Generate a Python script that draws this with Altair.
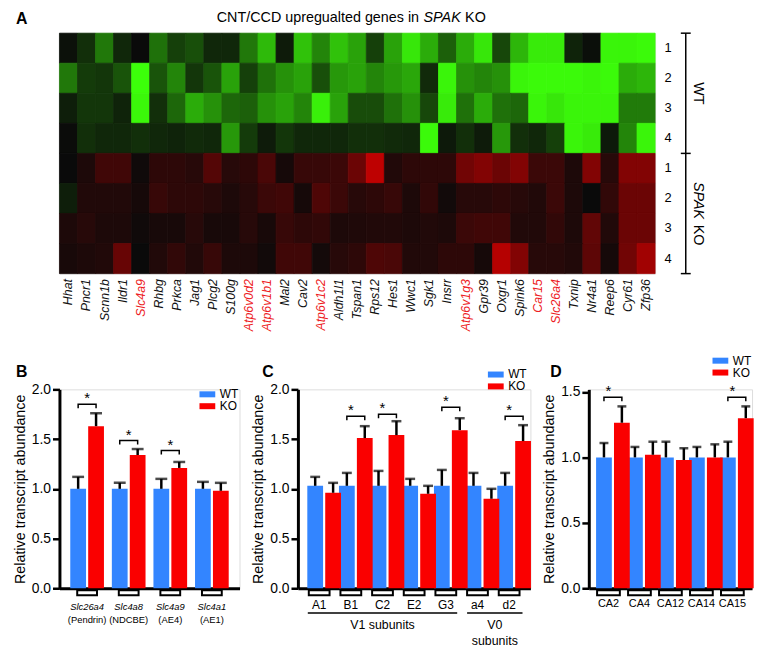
import altair as alt
import pandas as pd

FONT = "Liberation Sans"
BLUE = "#3385ff"
RED = "#fa0000"
LABEL_RED = "#ed1c24"

# ---------------- Panel A data ----------------
genes = ["Hhat", "Pncr1", "Scnn1b", "Ildr1", "Slc4a9", "Rhbg", "Prkca", "Jag1", "Plcg2", "S100g",
         "Atp6v0d2", "Atp6v1b1", "Mal2", "Cav2", "Atp6v1c2", "Aldh1l1", "Tspan1", "Rps12", "Hes1",
         "Wwc1", "Sgk1", "Insrr", "Atp6v1g3", "Gpr39", "Oxgr1", "Spink6", "Car15", "Slc26a4",
         "Txnip", "Nr4a1", "Reep6", "Cyr61", "Zfp36"]
red_genes = ["Slc4a9", "Atp6v0d2", "Atp6v1b1", "Atp6v1c2", "Atp6v1g3", "Car15", "Slc26a4"]
row_ids = ["WT1", "WT2", "WT3", "WT4", "KO1", "KO2", "KO3", "KO4"]

wt_1 = [-0.03, -0.15, -0.45, -0.12, 0.0, -0.42, -0.22, -0.28, -0.12, -0.12, -0.45, -0.72, -0.07, -0.75,
        -0.5, -0.75, -0.62, -0.22, -0.62, -0.9, -0.66, -0.35, -0.66, -0.9, -0.25, -0.7, -0.92, -0.92,
        -0.1, -0.02, -0.96, -0.96, -0.98]
wt_2 = [-0.45, -0.2, -0.18, -0.3, -1.0, -0.3, -0.5, -0.18, -0.3, -0.62, -0.22, -0.42, -0.55, -0.62,
        -0.28, -0.58, -0.62, -0.5, -0.58, -0.64, -0.13, -0.96, -0.55, -0.5, -0.55, -0.96, -0.98, -0.98,
        -0.98, -0.96, -0.98, -0.66, -0.7]
wt_3 = [-0.08, -0.18, -0.18, -0.1, -0.97, -0.15, -0.38, -0.66, -0.55, -0.38, -0.35, -0.55, -0.62, -0.5,
        -0.94, -0.62, -0.27, -0.27, -0.42, -0.55, -0.25, -0.92, -0.42, -0.66, -0.42, -0.38, -0.96, -0.9,
        -0.96, -0.96, -0.96, -0.46, -0.46]
wt_4 = [-0.01, -0.15, -0.12, -0.12, -0.15, -0.12, -0.1, -0.13, -0.12, -0.58, -0.2, -0.07, -0.18, -0.12,
        -0.12, -0.12, -0.15, -0.15, -0.13, -0.12, -0.98, -0.06, -0.15, -0.07, -0.58, -0.15, -0.12, -0.22,
        -0.96, -0.92, -0.06, -0.5, -0.96]
ko_1 = [0.0, 0.1, 0.28, 0.28, 0.03, 0.18, 0.18, 0.15, 0.38, 0.15, 0.18, 0.33, 0.06, 0.23, 0.23, 0.25,
        0.5, 0.93, 0.12, 0.18, 0.18, 0.18, 0.53, 0.62, 0.5, 0.62, 0.25, 0.25, 0.1, 0.62, 0.15, 0.62, 0.62]
ko_2 = [-0.08, 0.12, 0.12, 0.12, 0.06, 0.23, 0.18, 0.18, 0.15, 0.1, 0.15, 0.25, 0.28, 0.06, 0.35, 0.25,
        0.15, 0.18, 0.23, 0.1, 0.2, 0.04, 0.15, 0.15, 0.18, 0.15, 0.12, 0.25, 0.1, 0.0, 0.2, 0.5, 0.5]
ko_3 = [0.1, 0.15, 0.1, 0.1, 0.03, 0.07, 0.07, 0.15, 0.07, 0.07, 0.15, 0.07, 0.23, 0.18, 0.2, 0.1,
        0.11, 0.12, 0.12, 0.1, 0.12, 0.1, 0.25, 0.28, 0.28, 0.12, 0.12, 0.2, 0.1, 0.45, 0.12, 0.5, 0.5]
ko_4 = [0.07, 0.1, 0.12, 0.48, 0.0, 0.12, 0.2, 0.12, 0.23, 0.1, 0.1, 0.04, 0.28, 0.28, 0.05, 0.15,
        0.18, 0.35, 0.33, 0.12, 0.12, 0.18, 0.18, 0.06, 0.88, 0.62, 0.15, 0.15, 0.12, 0.43, 0.06, 0.53, 0.78]

# ---------------- Panel B data ----------------
b_genes = ["Slc26a4", "Slc4a8", "Slc4a9", "Slc4a1"]
b_names = ["(Pendrin)", "(NDCBE)", "(AE4)", "(AE1)"]
b_wt = [1.0, 1.0, 1.0, 1.0]
b_wt_top = [1.12, 1.06, 1.10, 1.07]
b_ko = [1.63, 1.34, 1.21, 0.98]
b_ko_top = [1.76, 1.40, 1.27, 1.06]
b_sig = [1.85, 1.485, 1.385, None]

# ---------------- Panel C data ----------------
c_genes = ["A1", "B1", "C2", "E2", "G3", "a4", "d2"]
c_wt = [1.03, 1.03, 1.03, 1.03, 1.03, 1.03, 1.03]
c_wt_top = [1.12, 1.16, 1.18, 1.10, 1.19, 1.16, 1.16]
c_ko = [0.96, 1.51, 1.54, 0.95, 1.59, 0.90, 1.48]
c_ko_top = [1.06, 1.63, 1.68, 1.03, 1.71, 1.00, 1.64]
c_sig = [None, 1.73, 1.75, None, 1.82, None, 1.73]

# ---------------- Panel D data ----------------
d_genes = ["CA2", "CA4", "CA12", "CA14", "CA15"]
d_wt = [1.0, 1.0, 1.0, 1.0, 1.0]
d_wt_top = [1.11, 1.08, 1.12, 1.08, 1.12]
d_ko = [1.265, 1.02, 0.98, 1.0, 1.30]
d_ko_top = [1.39, 1.12, 1.07, 1.10, 1.39]
d_sig = [1.46, None, None, None, 1.46]


def note(text):
    return alt.Chart(pd.DataFrame({"t": [text]}))


def label(text, x, y, **kw):
    base = dict(font=FONT, color="black", baseline="middle")
    base.update(kw)
    return note(text).mark_text(**base).encode(text="t:N", x=alt.value(x), y=alt.value(y))


# ================= Heatmap =================
HW, HH = 602, 243
heat_df = pd.DataFrame(
    [{"gene": g, "row": r, "value": v}
     for r, vals in zip(row_ids, [wt_1, wt_2, wt_3, wt_4, ko_1, ko_2, ko_3, ko_4])
     for g, v in zip(genes, vals)]
)
red_list = ",".join("'%s'" % g for g in red_genes)
label_color = {"expr": "indexof([%s], datum.value) >= 0 ? '%s' : '#111111'" % (red_list, LABEL_RED)}
heat_scale = dict(domain=[-1, 0, 1], range=["#3cff0a", "#0a0a0a", "#cc0000"], interpolate="rgb")

heat_rect = alt.Chart(heat_df).mark_rect(strokeWidth=0.8).encode(
    x=alt.X("gene:N", sort=genes, scale=alt.Scale(paddingInner=0, paddingOuter=0),
            axis=alt.Axis(title=None, orient="bottom", labelAngle=270, labelFont=FONT,
                          labelFontSize=12.5, labelFontStyle="italic", labelColor=label_color,
                          ticks=False, domain=False, labelPadding=5, labelOverlap=False)),
    y=alt.Y("row:N", sort=row_ids, scale=alt.Scale(paddingInner=0, paddingOuter=0),
            axis=alt.Axis(title=None, orient="right", labelExpr="substring(datum.label, 2)",
                          ticks=False, domain=False, labelPadding=9, labelFont=FONT,
                          labelFontSize=13, labelColor="black")),
    color=alt.Color("value:Q", scale=alt.Scale(**heat_scale), legend=None),
    stroke=alt.Stroke("value:Q", scale=alt.Scale(**heat_scale), legend=None),
)

BX = 633
vline = note("").mark_rule(color="black", strokeWidth=1.5).encode(
    x=alt.value(BX), y=alt.value(0), y2=alt.value(HH))
hticks = [note("").mark_rule(color="black", strokeWidth=1.5).encode(
    x=alt.value(BX - 5), x2=alt.value(BX + 5), y=alt.value(yy)) for yy in (0, HH / 2, HH)]

heat_layers = [heat_rect, vline] + hticks + [
    label("WT", 645, HH / 4, angle=90, align="center", fontSize=14.5),
    label("SPAK", 645, 150.4, angle=90, align="left", fontSize=14.5, fontStyle="italic"),
    label("KO", 645, 193.5, angle=90, align="left", fontSize=14.5),
    label("CNT/CCD upregualted genes in", 159, -15, align="left", fontSize=14.5),
    label("SPAK", 368, -15, align="left", fontSize=14.5, fontStyle="italic"),
    label("KO", 410, -15, align="left", fontSize=14.5),
    label("A", -44, -14, align="left", fontSize=16, fontWeight="bold"),
]
heat = alt.layer(*heat_layers).properties(width=HW, height=HH)


# ================= Bar panels =================
def bar_panel(g_list, wt, wt_top, ko, ko_top, sig_y, *, width, height, ydom, yticks,
              p_in, p_out, off_pad, cap_w, leg, box_w, lab_size, lab_style, lab_pad,
              letter, letter_x, leg_x, leg_y, extra=()):
    bars = pd.DataFrame(
        [{"gene": g, "series": "WT", "value": v, "top": t} for g, v, t in zip(g_list, wt, wt_top)] +
        [{"gene": g, "series": "KO", "value": v, "top": t} for g, v, t in zip(g_list, ko, ko_top)])
    sig = pd.DataFrame([{"gene": g, "y": y} for g, y in zip(g_list, sig_y) if y is not None])
    brk = pd.DataFrame([row for g, y in zip(g_list, sig_y) if y is not None for row in (
        {"gene": g, "series": "WT", "y": y - leg, "o": 0},
        {"gene": g, "series": "WT", "y": y, "o": 1},
        {"gene": g, "series": "KO", "y": y, "o": 2},
        {"gene": g, "series": "KO", "y": y - leg, "o": 3})])

    xaxis = alt.Axis(title=None, labelAngle=0, ticks=False, tickSize=0, labelPadding=lab_pad,
                     labelFont=FONT, labelFontSize=lab_size, labelFontStyle=lab_style,
                     labelColor="black", domainColor="black", domainWidth=3)
    yaxis = alt.Axis(title="Relative transcript abundance", values=yticks, format=".1f",
                     labelFont=FONT, labelFontSize=14, labelColor="black", labelPadding=2,
                     tickSize=7, tickWidth=2.5, tickColor="black", domainColor="black",
                     domainWidth=3, grid=False, titleFont=FONT, titleFontSize=14.5,
                     titleFontWeight="normal", titleColor="black", titlePadding=4)
    x = alt.X("gene:N", sort=g_list, scale=alt.Scale(paddingInner=p_in, paddingOuter=p_out), axis=xaxis)
    xo = alt.XOffset("series:N", sort=["WT", "KO"],
                     scale=alt.Scale(domain=["WT", "KO"], paddingInner=off_pad, paddingOuter=0))
    ysc = alt.Scale(domain=ydom, nice=False, zero=True)

    def yq(f):
        return alt.Y(f, type="quantitative", scale=ysc, axis=yaxis)

    bar = alt.Chart(bars).mark_bar().encode(
        x=x, xOffset=xo, y=yq("value"),
        color=alt.Color("series:N", sort=["WT", "KO"],
                        scale=alt.Scale(domain=["WT", "KO"], range=[BLUE, RED]),
                        legend=alt.Legend(title=None, orient="none", legendX=leg_x, legendY=leg_y,
                                          symbolType="M-1.45,-0.55H1.45V0.55H-1.45Z",
                                          symbolSize=121, symbolStrokeWidth=0, labelFont=FONT,
                                          labelFontSize=12, labelColor="black", labelOffset=6.5,
                                          rowPadding=0, padding=0)))
    err = alt.Chart(bars).mark_rule(color="black", strokeWidth=2.5).encode(
        x=x, xOffset=xo, y=yq("value"), y2=alt.Y2("top"))
    cap = alt.Chart(bars).mark_tick(color="black", thickness=2.5, size=cap_w).encode(
        x=x, xOffset=xo, y=yq("top"))
    br = alt.Chart(brk).mark_line(color="black", strokeWidth=1.5, strokeJoin="miter").encode(
        x=x, xOffset=xo, y=yq("y"), order="o:Q", detail="gene:N")
    star = alt.Chart(sig).mark_text(text="*", font=FONT, fontSize=15, color="black",
                                    baseline="middle", dy=-6).encode(x=x, y=yq("y"))
    box = alt.Chart(pd.DataFrame({"gene": g_list})).mark_bar(
        width=box_w, fill="white", stroke="black", strokeWidth=2).encode(
        x=x, y=alt.value(height + 2), y2=alt.value(height + 7))
    let = label(letter, letter_x, -17, align="left", fontSize=16, fontWeight="bold")
    return alt.layer(bar, err, cap, br, star, box, let, *extra).properties(width=width, height=height)


BHGT = 201
b_names_layer = alt.Chart(pd.DataFrame({"gene": b_genes, "name": b_names})).mark_text(
    font=FONT, fontSize=9.5, color="black", baseline="middle").encode(
    x=alt.X("gene:N", sort=b_genes), text="name:N", y=alt.value(233))

panel_b = bar_panel(b_genes, b_wt, b_wt_top, b_ko, b_ko_top, b_sig,
                    width=182, height=BHGT, ydom=[0, 2.0], yticks=[0, 0.5, 1.0, 1.5, 2.0],
                    p_in=0.19, p_out=0.26, off_pad=0.12, cap_w=12, leg=0.04, box_w=20,
                    lab_size=9.5, lab_style="italic", lab_pad=13, letter="B", letter_x=-44,
                    leg_x=143.5, leg_y=-1, extra=[b_names_layer])

c_extra = [
    note("").mark_rule(color="black", strokeWidth=1.5).encode(
        x=alt.value(10), x2=alt.value(161), y=alt.value(226)),
    note("").mark_rule(color="black", strokeWidth=1.5).encode(
        x=alt.value(171), x2=alt.value(227), y=alt.value(226)),
    label("V1 subunits", 85.5, 238, align="center", fontSize=12.5),
    label("V0", 199, 238, align="center", fontSize=12.5),
    label("subunits", 199, 254, align="center", fontSize=12.5),
]
panel_c = bar_panel(c_genes, c_wt, c_wt_top, c_ko, c_ko_top, c_sig,
                    width=235, height=BHGT, ydom=[0, 2.0], yticks=[0, 0.5, 1.0, 1.5, 2.0],
                    p_in=0.25, p_out=0.297, off_pad=0.1, cap_w=10, leg=0.04, box_w=21,
                    lab_size=12, lab_style="normal", lab_pad=11, letter="C", letter_x=-36,
                    leg_x=194, leg_y=-21, extra=c_extra)

panel_d = bar_panel(d_genes, d_wt, d_wt_top, d_ko, d_ko_top, d_sig,
                    width=165, height=BHGT, ydom=[0, 1.52], yticks=[0, 0.5, 1.0, 1.5],
                    p_in=0.2, p_out=0.235, off_pad=0.08, cap_w=9, leg=0.03, box_w=23,
                    lab_size=11, lab_style="normal", lab_pad=9, letter="D", letter_x=-39,
                    leg_x=127, leg_y=-35)

bottom = alt.hconcat(panel_b, panel_c, panel_d, spacing=59, bounds="flush").resolve_scale(
    color="independent").resolve_legend(color="independent")

chart = alt.vconcat(heat, bottom, spacing=117, bounds="flush").resolve_scale(
    color="independent", stroke="independent").resolve_legend(
    color="independent").configure_view(stroke=None).configure(font=FONT).properties(
    padding={"left": 4, "top": -2, "right": 2, "bottom": 2})

chart.save("out.html", embed_options={"renderer": "svg", "actions": False})
